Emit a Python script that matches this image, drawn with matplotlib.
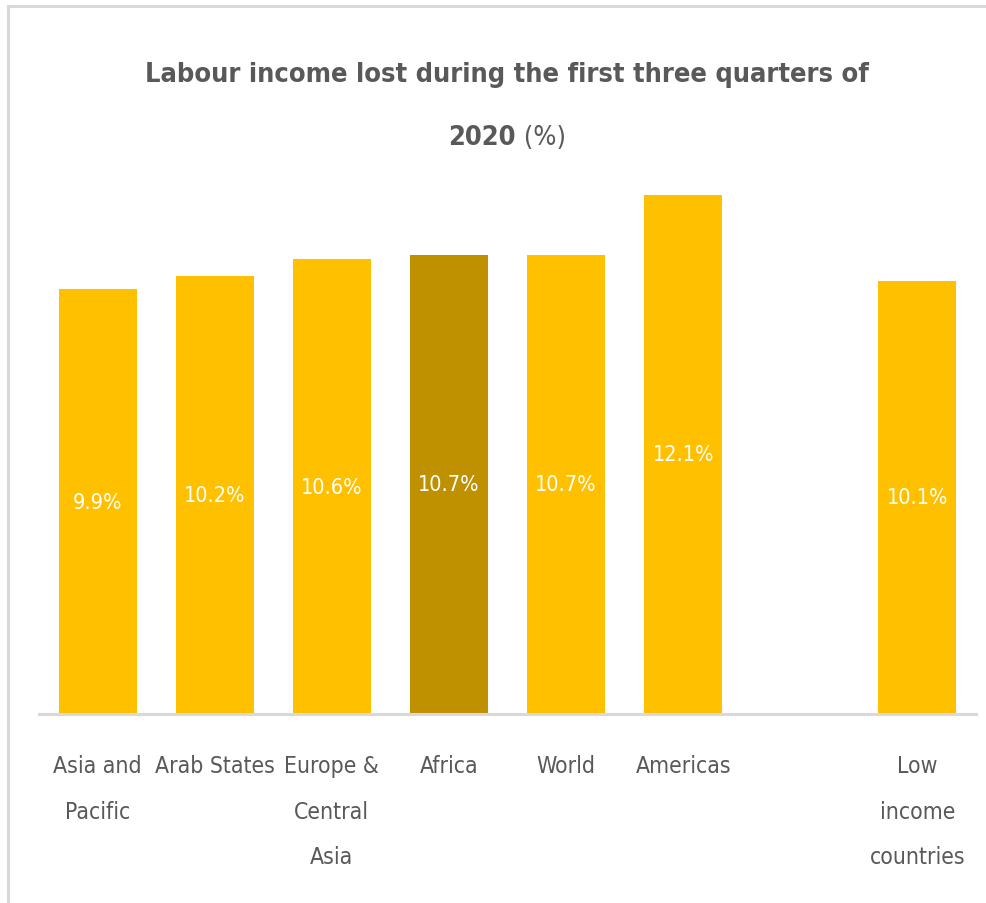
import matplotlib
matplotlib.use("Agg")
import matplotlib.pyplot as plt
from matplotlib.lines import Line2D
import numpy as np

plt.rcParams['font.family'] = ['DejaVu Sans']
plt.rcParams['font.stretch'] = 'condensed'

regions = ["Asia and\nPacific", "Arab States", "Europe &\nCentral\nAsia", "Africa",
           "World", "Americas", "", "Low\nincome\ncountries"]
income_lost = [9.9, 10.2, 10.6, 10.7, 10.7, 12.1, np.nan, 10.1]
highlight = "Africa"

bar_colour = "#FFC000"
dark_colour = "#BF9000"
text_grey = "#595959"
line_grey = "#D9D9D9"

W, H = 987, 904
fig = plt.figure(figsize=(W / 100, H / 100), dpi=100)
ax = fig.add_axes([39 / W, 1 - 715 / H, (976 - 39) / W, (715 - 170) / H])

x = np.arange(len(regions))
colours = [dark_colour if r == highlight else bar_colour for r in regions]
bars = ax.bar(x, income_lost, width=0.667, color=colours)

for xi, v in zip(x, income_lost):
    if np.isnan(v):
        continue
    ax.text(xi, v / 2, f"{v:.1f}%", ha="center", va="center",
            color="white", fontsize=15.5)

ax.set_xlim(-0.5, len(regions) - 0.5)
ax.set_ylim(0, (715 - 170) / 42.9)
ax.set_yticks([])
ax.set_xticks(x)
ax.set_xticklabels(regions, fontsize=16.5, color=text_grey)
for lbl in ax.get_xticklabels():
    lbl.set_linespacing(2.25)
ax.tick_params(axis="x", length=0, pad=29)
for side in ["top", "right", "left"]:
    ax.spines[side].set_visible(False)
ax.spines["bottom"].set_color(line_grey)
ax.spines["bottom"].set_linewidth(2.2)

# title: first line bold, second line "2020" bold with a plain "(%)"
fig.text(507 / W, 1 - 75 / H, "Labour income lost during the first three quarters of",
         ha="center", va="center", fontsize=19.5, fontweight="bold", color=text_grey)
t_year = fig.text(0, 1 - 138 / H, "2020", ha="left", va="center",
                  fontsize=19.5, fontweight="bold", color=text_grey)
t_pct = fig.text(0, 1 - 138 / H, " (%)", ha="left", va="center",
                 fontsize=19.5, color=text_grey)
fig.canvas.draw()
r = fig.canvas.get_renderer()
w1 = t_year.get_window_extent(r).width
w2 = t_pct.get_window_extent(r).width
start = 507 - (w1 + w2) / 2
t_year.set_x(start / W)
t_pct.set_x((start + w1) / W)

# light frame on the top and left edges
fig.add_artist(Line2D([8 / W, 8 / W], [0, 1 - 7 / H], color=line_grey, lw=2.2,
                      transform=fig.transFigure))
fig.add_artist(Line2D([8 / W, 1], [1 - 7 / H, 1 - 7 / H], color=line_grey, lw=2.2,
                      transform=fig.transFigure))

fig.savefig("out.png", dpi=100)
